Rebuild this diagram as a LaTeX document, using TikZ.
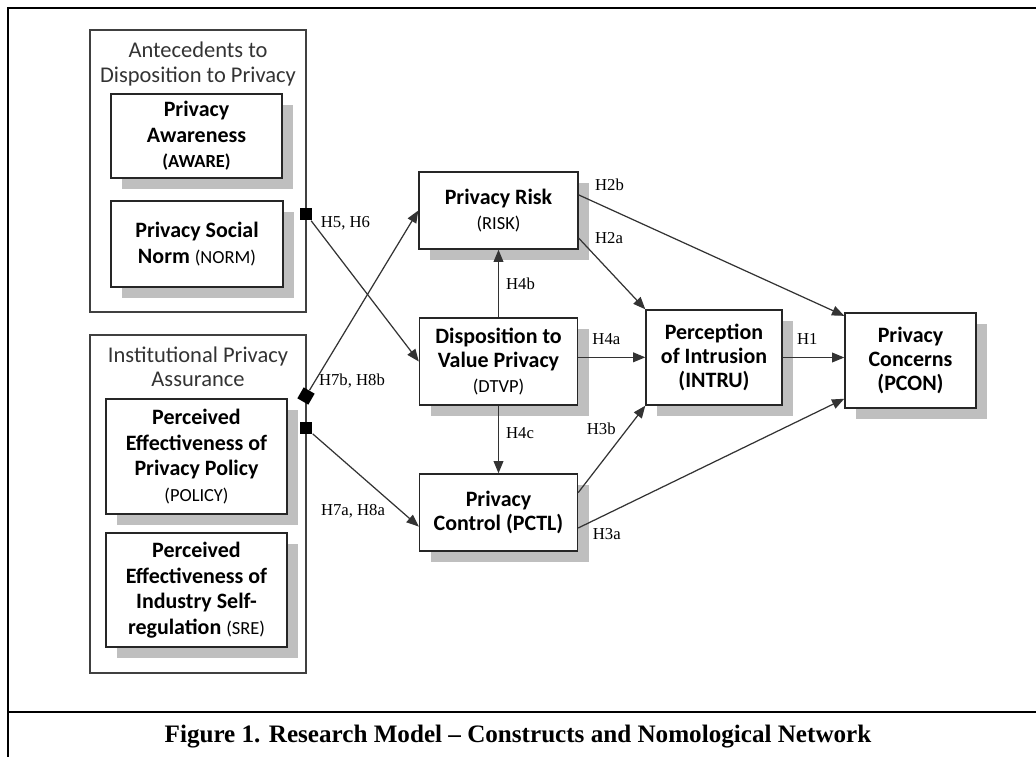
\documentclass[tikz,border=0pt]{standalone}
\usepackage{xcolor}
\usepackage{fontspec}
\setmainfont{Carlito}
\newfontfamily\hfont{Liberation Serif}
\usepackage{tikz}
\usetikzlibrary{arrows.meta}
\usetikzlibrary{shadows}
\newcommand{\abbr}[1]{{\mdseries\fontsize{10.5}{12}\selectfont #1}}
\newcommand{\abbrb}[1]{{\fontsize{10.5}{12}\selectfont #1}}

\begin{document}
\begin{tikzpicture}[x=0.02cm, y=-0.02cm,
		every node/.style={align=center, inner sep=0pt},
		grp/.style={draw=black!75, line width=0.7pt, minimum width=4.32cm},
		box/.style={draw=black!85, line width=0.8pt, fill=white, drop shadow={shadow xshift=6.3pt, shadow yshift=-6.3pt, opacity=1, fill=black!25}},
		lbox/.style={box, font=\bfseries\fontsize{12.5}{14.5}\selectfont},
		mbox/.style={box, font=\bfseries\fontsize{12.5}{13.8}\selectfont},
		grptitle/.style={text=black!80, font=\fontsize{12.8}{13.8}\selectfont},
		conn/.style={draw=black!80, line width=0.7pt, -{Triangle[length=7pt, width=5.6pt]}},
		sqmark/.style={fill=black, minimum size=7.2pt},
		lbl/.style={inner sep=2pt, font=\hfont\fontsize{9.5}{11}\selectfont}]
			% Frame
			\useasboundingbox (0,0) rectangle (1036,757);
			\draw[line width=1.3pt] (8,757) -- (8,8) -- (1036,8);
			\draw[line width=1.2pt] (8,712) -- (1036,712);
			% Groups
			\node[grp, minimum height=5.64cm] (ante) at (198,171) {};
			\node[grp, minimum height=6.76cm] (inst) at (198,504) {};
			\node[grptitle] (t1) at (198,64) {Antecedents to\\Disposition to Privacy};
			\node[grptitle] (t2) at (198,367) {Institutional Privacy\\Assurance};
			% Nodes
			\node[lbox, minimum width=3.42cm, minimum height=1.68cm] (aware) at (196.5,136) {Privacy\\Awareness\\\abbrb{(AWARE)}};
			\node[lbox, minimum width=3.44cm, minimum height=1.72cm] (norm) at (197,244) {Privacy Social\\Norm \abbr{(NORM)}};
			\node[lbox, minimum width=3.62cm, minimum height=2.3cm] (policy) at (196.5,456.5) {Perceived\\Effectiveness of\\Privacy Policy\\\abbr{(POLICY)}};
			\node[lbox, minimum width=3.62cm, minimum height=2.28cm] (sre) at (196.5,590) {Perceived\\Effectiveness of\\Industry Self-\\regulation \abbr{(SRE)}};
			\node[mbox, minimum width=3.18cm, minimum height=1.54cm] (risk) at (498.5,210.5) {Privacy Risk\\\abbr{(RISK)}};
			\node[mbox, minimum width=3.16cm, minimum height=1.74cm] (dtvp) at (498.5,361.5) {Disposition to\\Value Privacy\\\abbr{(DTVP)}};
			\node[mbox, minimum width=3.16cm, minimum height=1.54cm] (pctl) at (498.5,512.5) {Privacy\\Control (PCTL)};
			\node[mbox, minimum width=2.72cm, minimum height=1.9cm] (intru) at (714,357.5) {Perception\\of Intrusion\\(INTRU)};
			\node[mbox, minimum width=2.62cm, minimum height=1.9cm] (pcon) at (910.5,360.5) {Privacy\\Concerns\\(PCON)};
			% Markers
			\node[sqmark] (m1) at (306,214) {};
			\node[sqmark, rotate=-30] (m2) at (306,396) {};
			\node[sqmark] (m3) at (306,428) {};
			% Edges with hypotheses
			\draw[conn] (m1) -- (dtvp.west) node[lbl, pos=0.02, right=2pt] {H5, H6};
			\draw[conn] (m2) -- (risk.west) node[lbl, pos=0.05, right] {H7b, H8b};
			\draw[conn] (m3) -- (pctl.190) node[lbl, pos=0.72, below left] {H7a, H8a};
			\draw[conn] (dtvp.north) -- (risk.south) node[lbl, midway, right=2pt] {H4b};
			\draw[conn] (dtvp.south) -- (pctl.north) node[lbl, pos=0.4, right=2pt] {H4c};
			\draw[conn] (dtvp.3) -- (dtvp.3 -| intru.west) node[lbl, pos=0.42, above=5pt] {H4a};
			\draw[conn] (risk.-19) -- (intru.north west) node[lbl, at start, right=7pt] {H2a};
			\draw[conn] (risk.11) -- (pcon.146) node[lbl, at start, above right, xshift=7pt] {H2b};
			\draw[conn] (pctl.14) -- (intru.south west) node[lbl, pos=0.62, above left] {H3b};
			\draw[conn] (pctl.-11) -- (pcon.210) node[lbl, at start, below right, xshift=6pt, yshift=2pt] {H3a};
			\draw[conn] (intru.east) -- (intru.east -| pcon.west) node[lbl, pos=0.4, above=5pt] {H1};
			% Caption
			\node[font=\hfont\bfseries\fontsize{14.3}{16}\selectfont] (cap) at (518,737) {Figure 1. Research Model – Constructs and Nomological Network};
		\end{tikzpicture}
\end{document}
